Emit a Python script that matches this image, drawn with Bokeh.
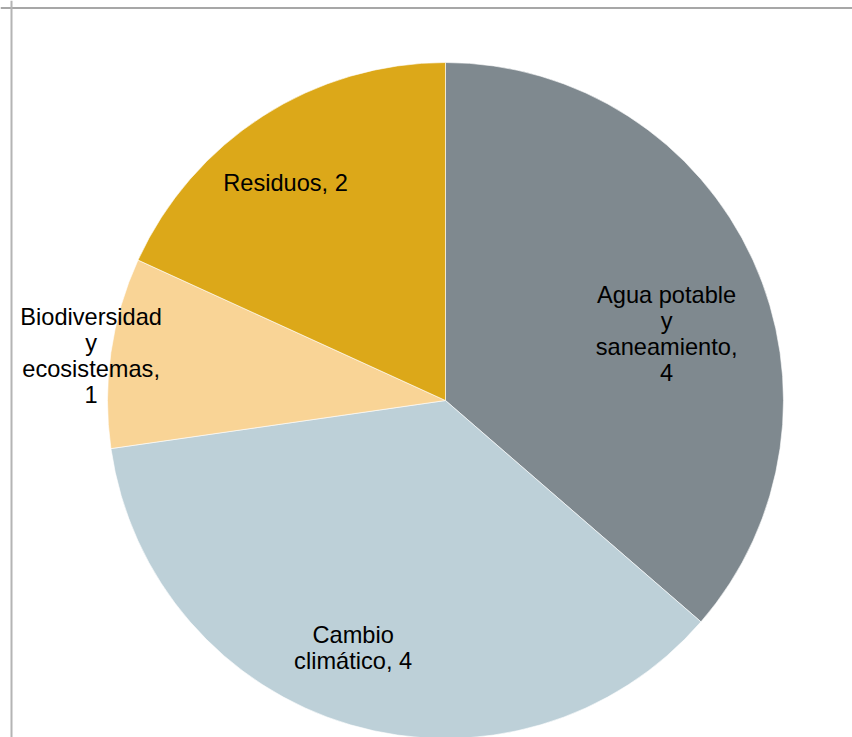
import math
from bokeh.plotting import figure
from bokeh.models import Range1d, ColumnDataSource, Span
from bokeh.core.properties import value
from bokeh.embed import file_html
from bokeh.resources import INLINE

# ---- data ----
categories = ["Agua potable y saneamiento", "Cambio climático", "Biodiversidad y ecosistemas", "Residuos"]
values = [4, 4, 1, 2]
label_texts = ["Agua potable\ny\nsaneamiento,\n4", "Cambio\nclimático, 4", "Biodiversidad\ny\necosistemas,\n1", "Residuos, 2"]
palette = ["#7F898F", "#BDD0D8", "#F9D496", "#DCA819"]

# ---- layout / style ----
W, H = 852, 737
cx, cy, R = 445, 337, 338
label_radius = [231, 264, 357, 270]
label_dx = [11, -18, -1, -14]
label_dy = [29, -6, 6, 10]

total = sum(values)
starts, ends, lx, ly = [], [], [], []
cum = 0
for i, v in enumerate(values):
    a0 = math.pi / 2 - 2 * math.pi * cum / total
    cum += v
    a1 = math.pi / 2 - 2 * math.pi * cum / total
    starts.append(a0)
    ends.append(a1)
    mid = (a0 + a1) / 2
    lx.append(cx + label_radius[i] * math.cos(mid))
    ly.append(cy + label_radius[i] * math.sin(mid))

src = ColumnDataSource(dict(cat=categories, val=values, start=starts, end=ends,
                            color=palette, x=[cx] * len(values), y=[cy] * len(values)))
lsrc = ColumnDataSource(dict(x=lx, y=ly, text=label_texts, dx=label_dx, dy=label_dy))

p = figure(width=W, height=H, output_backend="svg", toolbar_location=None,
           x_range=Range1d(0, W), y_range=Range1d(0, H),
           x_axis_location=None, y_axis_location=None, min_border=0,
           background_fill_color="white", border_fill_color="white")
p.grid.visible = False
p.outline_line_color = None

p.wedge(x="x", y="y", radius=R, start_angle="start", end_angle="end", direction="clock",
        fill_color="color", line_color="white", line_width=0.6, source=src)

p.text(x="x", y="y", text="text", x_offset="dx", y_offset="dy", source=lsrc,
       text_font=value("Liberation Sans"), text_font_size="23.6px", text_color="black",
       text_align="center", text_baseline="middle", text_line_height=1.0)

p.add_layout(Span(location=H - 7.5, dimension="width", line_color="#8A8A8A", line_width=1.5))
p.add_layout(Span(location=11, dimension="height", line_color="#B4B4B4", line_width=2))

open("out.html", "w").write(file_html(p, INLINE))
